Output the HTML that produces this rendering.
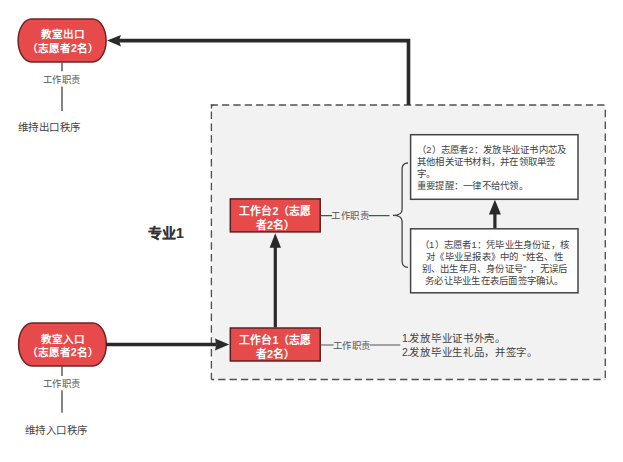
<!DOCTYPE html>
<html lang="zh-CN"><head><meta charset="utf-8">
<style>
html,body{margin:0;padding:0;background:#fff;}
body{width:623px;height:462px;position:relative;overflow:hidden;font-family:"Liberation Sans",sans-serif;}
svg{position:absolute;left:0;top:0;}
.t{position:absolute;white-space:nowrap;}
.w{color:#fff;font-weight:bold;text-align:center;}
.g{color:#424242;}
</style></head><body>
<svg width="623" height="462" viewBox="0 0 623 462">
  <!-- dashed container -->
  <rect x="211.4" y="105" width="393.9" height="274.5" fill="#f2f2f2"/>
  <g stroke="#505050" stroke-width="1.35" fill="none" stroke-dasharray="7.3 4.07">
    <path d="M210.6 105 H605.3"/>
    <path d="M211.4 111.5 V379.5" stroke-dasharray="7.5 4.38"/>
    <path d="M211.4 379.5 H605.3" stroke-dashoffset="4.57"/>
    <path d="M605.3 109.5 V379.5" stroke-dasharray="7.5 4.35" stroke-dashoffset="-0.2"/>
  </g>
  <path d="M211.4 108.5 V107 Q211.4 105 213.4 105" stroke="#505050" stroke-width="1.35" fill="none"/>
  <!-- top rounded box -->
  <rect x="18.1" y="19" width="88" height="43" rx="13.5" ry="22" fill="#e64a4a" stroke="#6a2424" stroke-width="1.5"/>
  <!-- bottom rounded box -->
  <rect x="18.6" y="322.9" width="87.7" height="43" rx="13.5" ry="22" fill="#e64a4a" stroke="#6a2424" stroke-width="1.5"/>
  <!-- work station boxes -->
  <rect x="230.3" y="198.9" width="89.9" height="33" fill="#e64a4a" stroke="#5a2020" stroke-width="1.5"/>
  <rect x="230.3" y="328" width="89.9" height="33" fill="#e64a4a" stroke="#5a2020" stroke-width="1.5"/>
  <!-- white boxes -->
  <rect x="410.6" y="134.7" width="167.4" height="64.6" fill="#fff" stroke="#444" stroke-width="1.5"/>
  <rect x="410.6" y="228.8" width="167.4" height="64" fill="#fff" stroke="#444" stroke-width="1.5"/>
  <!-- top arrow path -->
  <path d="M408.5 105 V40.6 H119" fill="none" stroke="#2a2a2a" stroke-width="3.6"/>
  <path d="M107 40.6 L121 35 L119 40.6 L121 46.4 Z" fill="#2a2a2a"/>
  <!-- bottom horizontal arrow -->
  <path d="M106.3 344.5 H216" fill="none" stroke="#2a2a2a" stroke-width="3.5"/>
  <path d="M229.2 344.5 L215 338.5 L216.2 344.5 L215 350.5 Z" fill="#2a2a2a"/>
  <!-- vertical arrow ws1->ws2 -->
  <path d="M275.3 327.3 V246" fill="none" stroke="#2a2a2a" stroke-width="3.2"/>
  <path d="M275.3 233.3 L269.6 247.7 L281 247.7 Z" fill="#2a2a2a"/>
  <!-- arrow between white boxes -->
  <path d="M494.9 228.1 V212" fill="none" stroke="#2a2a2a" stroke-width="3.2"/>
  <path d="M494.9 199.8 L488.9 214.6 L500.9 214.6 Z" fill="#2a2a2a"/>
  <!-- left label lines -->
  <path d="M62 62.5 V71.2 M62 86.4 V111" stroke="#444" stroke-width="1.3"/>
  <path d="M62 366 V376 M62 390.2 V412.8" stroke="#444" stroke-width="1.3"/>
  <!-- ws2 connector -->
  <path d="M320.9 215.6 H332 M368.5 215.6 H389.5" stroke="#505050" stroke-width="1.3"/>
  <!-- brace -->
  <path d="M408 163 Q402.1 163 402.1 169 V209.5 Q402.1 215.4 393 215.4 Q402.1 215.4 402.1 221.3 V261.3 Q402.1 267.3 408 267.3" fill="none" stroke="#444" stroke-width="1.3"/>
  <!-- ws1 connector -->
  <path d="M320.9 345 H333.6 M370 345 H400.3" stroke="#555" stroke-width="1.2"/>
</svg>

<div class="t w" style="left:19px;top:28.3px;width:88px;font-size:10.6px;line-height:13.5px;">教室出口<br>（志愿者2名）</div>
<div class="t w" style="left:18.8px;top:332.8px;width:88px;font-size:10.6px;line-height:13.5px;">教室入口<br>（志愿者2名）</div>
<div class="t w" style="left:230px;top:203.5px;width:91px;font-size:10.8px;line-height:14px;">工作台2（志愿<br>者2名）</div>
<div class="t w" style="left:230px;top:332.5px;width:91px;font-size:10.8px;line-height:14px;">工作台1（志愿<br>者2名）</div>

<div class="t g" style="color:#555;left:42.8px;top:73.8px;font-size:9.4px;letter-spacing:0.5px;line-height:12px;background:#fff;">工作职责</div>
<div class="t g" style="color:#444;left:17.5px;top:120px;font-size:10.5px;letter-spacing:0.55px;line-height:14px;">维持出口秩序</div>
<div class="t g" style="color:#555;left:42.5px;top:377.5px;font-size:9.4px;letter-spacing:0.5px;line-height:12px;">工作职责</div>
<div class="t g" style="color:#444;left:24.5px;top:423px;font-size:10.5px;letter-spacing:0.55px;line-height:14px;">维持入口秩序</div>

<div class="t" style="left:148px;top:223.5px;font-size:14px;line-height:18px;font-weight:bold;color:#333;-webkit-text-stroke:0.15px #333;">专业1</div>

<div class="t g" style="color:#555;left:331px;top:209.5px;font-size:9.4px;letter-spacing:0.5px;line-height:12px;">工作职责</div>
<div class="t g" style="color:#555;left:332.5px;top:340px;font-size:9.4px;letter-spacing:0.5px;line-height:12px;">工作职责</div>

<div class="t g" style="left:417px;top:144px;font-size:9.4px;letter-spacing:0.23px;line-height:12px;">（2）志愿者2：发放毕业证书内芯及<br>其他相关证书材料，并在领取单签<br>字。<br>重要提醒：一律不给代领。</div>
<div class="t g" style="left:411px;top:238.5px;width:167px;text-align:center;font-size:9.4px;letter-spacing:0.23px;line-height:12px;">（1）志愿者1：凭毕业生身份证，核<br>对《毕业呈报表》中的<span style="margin-left:4px">“</span>姓名、性<br>别、出生年月、身份证号<span style="margin-right:4px">”</span>，无误后<br>务必让毕业生在表后面签字确认。</div>

<div class="t g" style="left:402px;top:332.4px;font-size:10.4px;letter-spacing:0.7px;line-height:13.4px;"><span style="letter-spacing:-0.6px">1.</span>发放毕业证书外壳。<br><span style="letter-spacing:-0.6px">2.</span>发放毕业生礼品，并签字。</div>
</body></html>
